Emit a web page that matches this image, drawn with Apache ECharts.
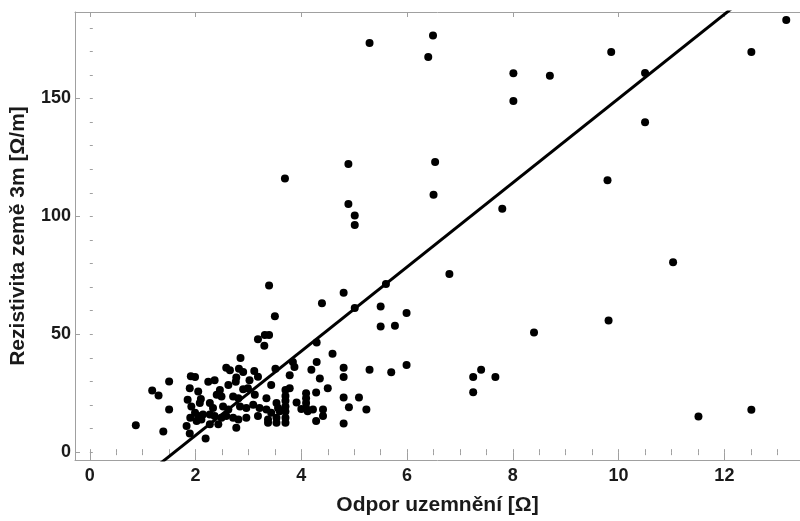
<!DOCTYPE html>
<html>
<head>
<meta charset="utf-8">
<script src="https://cdn.jsdelivr.net/npm/echarts@6/dist/echarts.min.js"></script>
<style>
  html, body { margin: 0; padding: 0; background: #fff; }
  #main { width: 800px; height: 521px; }
</style>
</head>
<body>
<div id="main"></div>
<script>
// odpor uzemnění [Ω] a rezistivita [Ω/m]
const odporX = [
  5.29, 6.49, 6.40, 8.01, 8.01, 3.69, 4.89, 6.53, 6.50, 4.89, 5.01, 5.01, 7.80,
  13.17, 9.86, 12.51, 8.70, 10.50, 10.50, 9.79, 11.03, 8.40, 9.81, 11.51, 12.51,
  6.80, 3.39, 4.80, 5.60, 4.39, 5.50, 5.01, 5.99, 3.50, 5.50, 5.77, 4.59, 5.99,
  5.29, 5.70, 7.25, 7.40, 7.67, 7.25, 4.80, 4.80, 4.80, 5.09, 4.90, 5.23, 4.80,
  3.18, 3.31, 3.39, 3.30, 2.85, 4.29, 4.29, 3.84,
  1.50, 1.91, 1.99, 1.18, 1.30, 1.89, 1.50, 0.87, 1.39, 1.85, 2.10, 1.92, 1.99,
  1.90, 1.83, 1.89, 2.19, 2.02,
  2.58, 2.65, 2.82, 2.90, 3.11, 3.51, 2.24, 2.36, 2.77, 2.76, 3.02, 3.18, 2.62,
  3.43, 2.90, 2.99, 2.46, 2.05, 3.70, 3.70, 3.70, 3.70, 3.70, 3.70, 3.70,
  2.40, 2.49, 2.08, 2.71, 2.81, 3.12, 3.34, 3.53, 3.56, 3.59, 2.27, 2.33, 2.52,
  2.62, 2.84, 2.96, 3.09, 3.21, 3.34, 3.43, 2.14, 2.27, 2.36, 2.49, 2.58, 2.71,
  2.81, 2.96, 3.18, 3.37, 3.53, 2.05, 2.11, 2.27, 2.43, 2.77, 3.37, 3.53,
  3.87, 4.19, 4.35, 3.78, 4.50, 4.28, 3.78, 4.09, 4.09, 4.09, 4.09, 3.91, 4.00,
  4.12, 4.22, 4.41, 4.41, 4.28
];
const rezistivitaY = [
  173.6, 176.7, 167.6, 160.7, 148.9, 116.1, 122.2, 123.1, 109.2, 105.3, 100.4, 96.3, 103.2,
  183.3, 169.7, 169.7, 159.7, 160.8, 139.9, 115.3, 80.6, 50.8, 55.8, 15.1, 18.0,
  75.6, 70.7, 67.6, 71.3, 63.2, 61.8, 61.1, 59.0, 57.6, 53.3, 53.6, 41.7, 37.0,
  35.0, 33.9, 31.9, 35.0, 31.9, 25.4, 35.8, 31.9, 23.2, 23.2, 19.0, 18.1, 12.1,
  47.9, 49.7, 49.7, 45.1, 39.9, 46.5, 38.2, 38.2,
  30.0, 32.2, 31.9, 26.1, 24.0, 27.1, 18.1, 11.4, 8.8, 22.2, 22.5, 19.4, 16.7,
  14.6, 11.1, 7.9, 5.8, 13.2,
  35.8, 34.7, 35.4, 34.0, 34.4, 35.4, 29.9, 30.5, 31.7, 29.9, 30.5, 32.0, 28.5,
  28.5, 26.7, 27.1, 26.4, 25.7, 26.4, 23.8, 21.8, 19.4, 17.2, 14.6, 12.5,
  24.3, 23.6, 20.8, 23.6, 22.9, 24.3, 22.9, 20.8, 18.7, 17.4, 20.8, 18.7, 19.4,
  18.1, 19.4, 18.7, 20.1, 18.7, 18.1, 16.7, 16.0, 16.0, 15.3, 14.6, 15.3, 14.6,
  13.9, 14.6, 15.3, 13.9, 14.6, 15.3, 13.9, 11.8, 11.8, 10.4, 12.5, 12.5,
  36.1, 35.0, 31.2, 32.6, 27.1, 25.3, 27.1, 25.0, 22.9, 20.8, 18.7, 21.1, 18.3,
  17.4, 18.1, 18.1, 15.3, 13.2
];

// regresní přímka y = a + b*x
const fitIntercept = -28.6;
const fitSlope = 17.86;
const fitX = [1.0, 12.6];

const xTicks = [0, 2, 4, 6, 8, 10, 12];
const yTicks = [0, 50, 100, 150];
const xMin = -0.28, xMax = 13.43;
const yMin = -3.33, yMax = 186.7;

let xMinor = [];
for (let v = 0; v <= 13.01; v += 0.5) xMinor.push(v);
let yMinor = [];
for (let v = 0; v <= 180; v += 10) yMinor.push(v);

let points = odporX.map((x, i) => [x, rezistivitaY[i]]);
let fitLine = fitX.map(x => [x, fitIntercept + fitSlope * x]);

let frameColor = '#a0a0a0';
let labelFont = {
  color: '#1a1a1a',
  fontFamily: 'Liberation Sans, Arial, sans-serif',
  fontWeight: 'bold',
  fontSize: 18
};
let titleFont = Object.assign({}, labelFont, {fontSize: 21});

function xAxisOf(pos, values, len, opts) {
  return Object.assign({
    type: 'value', position: pos, min: xMin, max: xMax,
    axisLine: {show: true, onZero: false, lineStyle: {color: frameColor, width: 1}},
    axisTick: {show: true, inside: true, length: len, customValues: values,
      lineStyle: {color: frameColor}},
    axisLabel: {show: false},
    splitLine: {show: false}
  }, opts || {});
}

function yAxisOf(pos, values, len, opts) {
  return Object.assign({
    type: 'value', position: pos, min: yMin, max: yMax,
    axisLine: {show: true, onZero: false, lineStyle: {color: frameColor, width: 1}},
    axisTick: {show: true, inside: true, length: len, customValues: values,
      lineStyle: {color: frameColor}},
    axisLabel: {show: false},
    splitLine: {show: false}
  }, opts || {});
}

let chart = echarts.init(document.getElementById('main'));
let option = {
  backgroundColor: '#fff',
  animation: false,
  grid: {left: 73, right: 0, top: 12, bottom: 53, containLabel: false},
  xAxis: [
    xAxisOf('bottom', xTicks, 5, {
      name: 'Odpor uzemnění [Ω]',
      nameLocation: 'middle',
      nameGap: 35,
      nameTextStyle: titleFont,
      axisLabel: Object.assign({show: true, margin: 7, customValues: xTicks}, labelFont)
    }),
    xAxisOf('bottom', xMinor, 3, {axisLine: {show: false}}),
    xAxisOf('top', xTicks, 5),
    xAxisOf('top', xMinor, 3, {axisLine: {show: false}})
  ],
  yAxis: [
    yAxisOf('left', yTicks, 5, {
      name: 'Rezistivita země 3m [Ω/m]',
      nameLocation: 'middle',
      nameGap: 46,
      nameTextStyle: titleFont,
      axisLabel: Object.assign({show: true, margin: 4, customValues: yTicks}, labelFont)
    }),
    yAxisOf('left', yMinor, 3, {axisLine: {show: false}})
  ],
  series: [
    {
      name: 'měření',
      type: 'scatter',
      xAxisIndex: 0,
      yAxisIndex: 0,
      symbol: 'circle',
      symbolSize: 8,
      itemStyle: {color: '#000', opacity: 1},
      data: points
    },
    {
      name: 'regrese',
      type: 'line',
      xAxisIndex: 0,
      yAxisIndex: 0,
      showSymbol: false,
      clip: true,
      lineStyle: {color: '#000', width: 3},
      data: fitLine
    }
  ]
};
chart.setOption(option);
</script>
</body>
</html>
